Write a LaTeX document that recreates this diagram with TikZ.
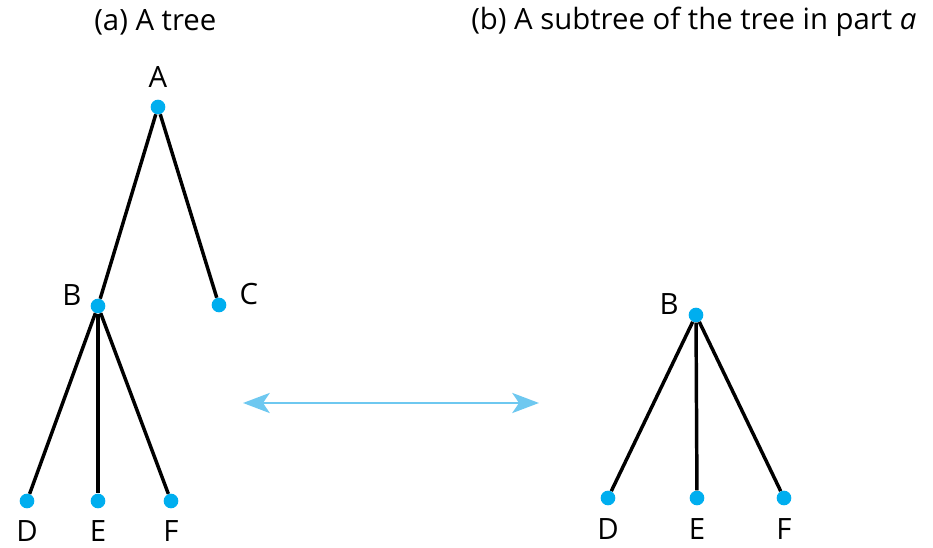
\documentclass[tikz,border=0pt]{standalone}
\usepackage{fontspec}
\setmainfont{Open Sans}
\usetikzlibrary{arrows.meta}

\definecolor{dotblue}{RGB}{0,174,239}
\definecolor{arrowblue}{RGB}{110,200,240}

\begin{document}
\begin{tikzpicture}[
        x=0.75pt, y=-0.75pt,
        font=\fontsize{22}{26}\selectfont,
        % Stile per i nodi dell'albero (pallini)
        dot/.style={
            circle,
            fill=dotblue,
            inner sep=0pt,
            minimum size=11pt
        },
        edge/.style={line width=2.6pt, black},
        lbl/.style={inner sep=0pt, anchor=center}
    ]
    \useasboundingbox (0,0) rectangle (933,548);

    % ========================================================
    % 1. Titoli
    % ========================================================
    \node[lbl, anchor=west] (title_a) at (94,22) {(a) A tree};
    \node[lbl, anchor=west] (title_b) at (471,22) {(b) A subtree of the tree in part \textit{a}};

    % ========================================================
    % 2. Albero (a)
    % ========================================================
    \node[dot] (a) at (158,107) {};
    \node[dot] (b) at (98,306) {};
    \node[dot] (c) at (219,305) {};
    \node[dot] (d) at (27,501) {};
    \node[dot] (e) at (98,501) {};
    \node[dot] (f) at (171,501) {};

    \node[lbl] (lab_a) at (158,77) {A};
    \node[lbl] (lab_b) at (72,295) {B};
    \node[lbl] (lab_c) at (249,294) {C};
    \node[lbl] (lab_d) at (27,531) {D};
    \node[lbl] (lab_e) at (98,531) {E};
    \node[lbl] (lab_f) at (171,531) {F};

    \draw[edge] (a) -- (b);
    \draw[edge] (a) -- (c);
    \draw[edge] (b) -- (d);
    \draw[edge] (b) -- (e);
    \draw[edge] (b) -- (f);

    % ========================================================
    % 3. Freccia doppia
    % ========================================================
    \coordinate (arr_l) at (243,403);
    \coordinate (arr_r) at (539,403);
    \draw[arrowblue, line width=2.2pt,
          {Stealth[length=20pt, width=15pt, inset=5pt]}-{Stealth[length=20pt, width=15pt, inset=5pt]}]
          (arr_l) -- (arr_r);

    % ========================================================
    % 4. Sottoalbero (b)
    % ========================================================
    \node[dot] (sb) at (696,315) {};
    \node[dot] (sd) at (608,498) {};
    \node[dot] (se) at (697,498) {};
    \node[dot] (sf) at (784,498) {};

    \node[lbl] (lab_sb) at (669,304) {B};
    \node[lbl] (lab_sd) at (608,529) {D};
    \node[lbl] (lab_se) at (697,529) {E};
    \node[lbl] (lab_sf) at (784,529) {F};

    \draw[edge] (sb) -- (sd);
    \draw[edge] (sb) -- (se);
    \draw[edge] (sb) -- (sf);

\end{tikzpicture}
\end{document}
